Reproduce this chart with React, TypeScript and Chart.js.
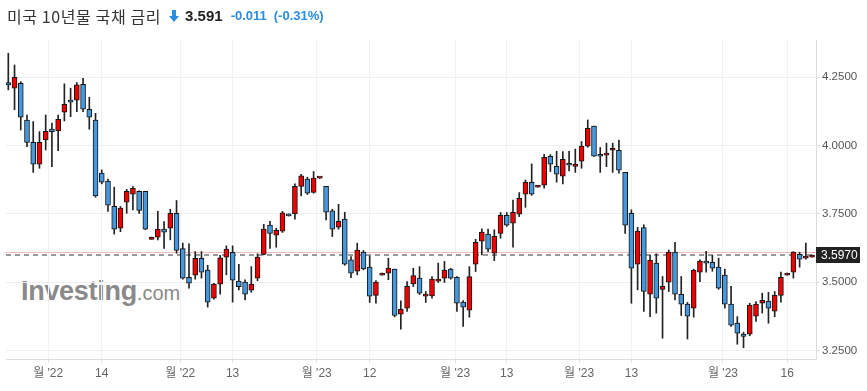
import React, { useEffect, useRef } from "react";
import { Chart, registerables } from "chart.js";

Chart.register(...registerables);

// ---- Data (daily candles, US 10Y yield) ----
const opens = [
  4.231, 4.210, 4.228, 4.093, 4.012, 3.932, 4.021, 4.060, 4.054, 4.122,
  4.166, 4.166, 4.224, 4.133, 4.093, 3.899, 3.870, 3.778, 3.698, 3.793,
  3.822, 3.833, 3.833, 3.657, 3.665, 3.694, 3.698, 3.752, 3.623, 3.518,
  3.526, 3.587, 3.544, 3.442, 3.493, 3.592, 3.609, 3.504, 3.500, 3.471,
  3.515, 3.602, 3.709, 3.672, 3.687, 3.749, 3.750, 3.851, 3.877, 3.829,
  3.881, 3.851, 3.761, 3.701, 3.731, 3.582, 3.540, 3.610, 3.555, 3.452,
  3.526, 3.533, 3.548, 3.383, 3.405, 3.494, 3.515, 3.449, 3.450, 3.504,
  3.515, 3.548, 3.518, 3.427, 3.398, 3.566, 3.650, 3.676, 3.606, 3.679,
  3.745, 3.716, 3.749, 3.822, 3.866, 3.848, 3.855, 3.961, 3.924, 3.888,
  3.935, 3.924, 3.943, 3.998, 4.071, 3.968, 3.965, 3.983, 3.983, 3.902,
  3.752, 3.566, 3.700, 3.456, 3.570, 3.474, 3.500, 3.610, 3.456, 3.420,
  3.405, 3.537, 3.577, 3.573, 3.555, 3.526, 3.420, 3.350, 3.310, 3.310,
  3.376, 3.423, 3.431, 3.394, 3.452, 3.526, 3.537, 3.602, 3.588, 3.592,
];
const highs = [
  4.338, 4.295, 4.234, 4.112, 4.088, 4.051, 4.112, 4.082, 4.112, 4.226,
  4.210, 4.231, 4.246, 4.177, 4.118, 3.911, 3.877, 3.848, 3.777, 3.840,
  3.850, 3.834, 3.833, 3.665, 3.759, 3.722, 3.767, 3.799, 3.643, 3.640,
  3.612, 3.612, 3.562, 3.496, 3.598, 3.633, 3.633, 3.565, 3.509, 3.557,
  3.604, 3.712, 3.723, 3.698, 3.759, 3.750, 3.860, 3.895, 3.884, 3.905,
  3.883, 3.851, 3.767, 3.785, 3.756, 3.594, 3.643, 3.616, 3.596, 3.506,
  3.533, 3.588, 3.548, 3.432, 3.502, 3.551, 3.557, 3.466, 3.521, 3.570,
  3.576, 3.551, 3.521, 3.433, 3.557, 3.657, 3.695, 3.694, 3.692, 3.755,
  3.755, 3.801, 3.828, 3.874, 3.933, 3.855, 3.968, 3.967, 3.979, 3.978,
  3.979, 3.987, 4.015, 4.094, 4.071, 3.993, 4.009, 4.009, 4.020, 3.902,
  3.765, 3.701, 3.710, 3.599, 3.604, 3.521, 3.618, 3.646, 3.521, 3.426,
  3.548, 3.582, 3.613, 3.598, 3.588, 3.548, 3.485, 3.374, 3.317, 3.423,
  3.429, 3.460, 3.463, 3.466, 3.537, 3.533, 3.612, 3.610, 3.643, 3.599,
];
const lows = [
  4.204, 4.131, 4.057, 3.996, 3.902, 3.917, 3.984, 3.923, 3.981, 4.090,
  4.106, 4.124, 4.124, 4.060, 3.811, 3.860, 3.759, 3.676, 3.685, 3.752,
  3.765, 3.752, 3.692, 3.657, 3.655, 3.624, 3.655, 3.606, 3.511, 3.478,
  3.511, 3.515, 3.409, 3.438, 3.456, 3.527, 3.427, 3.472, 3.435, 3.463,
  3.505, 3.600, 3.624, 3.628, 3.682, 3.742, 3.731, 3.816, 3.821, 3.826,
  3.880, 3.728, 3.667, 3.694, 3.562, 3.517, 3.527, 3.545, 3.426, 3.423,
  3.526, 3.509, 3.373, 3.328, 3.393, 3.484, 3.455, 3.426, 3.442, 3.499,
  3.499, 3.511, 3.393, 3.338, 3.372, 3.539, 3.600, 3.612, 3.579, 3.661,
  3.704, 3.628, 3.740, 3.774, 3.818, 3.848, 3.844, 3.905, 3.866, 3.860,
  3.907, 3.902, 3.917, 3.994, 3.960, 3.902, 3.923, 3.902, 3.899, 3.679,
  3.423, 3.472, 3.393, 3.374, 3.387, 3.295, 3.466, 3.435, 3.378, 3.292,
  3.372, 3.502, 3.537, 3.540, 3.474, 3.405, 3.338, 3.273, 3.260, 3.304,
  3.356, 3.387, 3.350, 3.374, 3.427, 3.526, 3.515, 3.555, 3.584, 3.592,
];
const closes = [
  4.222, 4.250, 4.104, 4.012, 3.932, 4.012, 4.052, 4.051, 4.096, 4.151,
  4.159, 4.222, 4.133, 4.104, 3.816, 3.866, 3.782, 3.694, 3.771, 3.833,
  3.844, 3.763, 3.694, 3.665, 3.694, 3.683, 3.752, 3.616, 3.515, 3.496,
  3.587, 3.537, 3.427, 3.493, 3.589, 3.621, 3.507, 3.484, 3.456, 3.493,
  3.592, 3.694, 3.679, 3.690, 3.754, 3.743, 3.851, 3.889, 3.826, 3.881,
  3.882, 3.756, 3.694, 3.723, 3.566, 3.533, 3.618, 3.549, 3.449, 3.500,
  3.533, 3.552, 3.378, 3.402, 3.485, 3.524, 3.460, 3.456, 3.511, 3.511,
  3.544, 3.515, 3.423, 3.409, 3.521, 3.646, 3.683, 3.621, 3.668, 3.745,
  3.709, 3.756, 3.807, 3.866, 3.822, 3.855, 3.957, 3.932, 3.895, 3.950,
  3.928, 3.932, 3.998, 4.063, 3.961, 3.961, 3.972, 3.990, 3.910, 3.709,
  3.551, 3.687, 3.466, 3.581, 3.442, 3.485, 3.610, 3.456, 3.420, 3.376,
  3.544, 3.577, 3.570, 3.551, 3.478, 3.420, 3.343, 3.313, 3.302, 3.416,
  3.420, 3.434, 3.405, 3.452, 3.518, 3.533, 3.610, 3.584, 3.595, 3.599,
];

// x-axis tick positions (in candle index units) and labels
const xTickPositions = [6.4, 15, 27.6, 36, 49.5, 58, 71.7, 80, 91.6, 100, 114.7, 125];
const xTickLabels = ["월 '22", "14", "월 '22", "13", "월 '23", "12", "월 '23", "13", "월 '23", "13", "월 '23", "16"];
const yTicks = [3.25, 3.5, 3.75, 4.0, 4.25];

const currentPrice = 3.5985;
const currentLabel = "3.5970";
const prevCloseLine = 3.6095;

const UP = "#ee0000";
const DOWN = "#4598dc";

export default function App() {
  const ref = useRef<HTMLCanvasElement | null>(null);

  useEffect(() => {
    const canvas = ref.current;
    if (!canvas) return;

    const bodies = opens.map((o, i) => ({ x: i, y: [Math.min(o, closes[i]), Math.max(o, closes[i])] }));
    const wicks = lows.map((l, i) => ({ x: i, y: [l, highs[i]] }));
    const bodyColors = opens.map((o, i) => (closes[i] >= o ? UP : DOWN));

    const linesPlugin = {
      id: "priceLines",
      beforeDatasetsDraw(chart: any) {
        const { ctx, chartArea, scales } = chart;
        const y1 = Math.round(scales.y.getPixelForValue(prevCloseLine)) + 0.5;
        const y2 = Math.round(scales.y.getPixelForValue(currentPrice));
        ctx.save();
        ctx.strokeStyle = "#f3b9b9";
        ctx.lineWidth = 1;
        ctx.beginPath();
        ctx.moveTo(chartArea.left, y1);
        ctx.lineTo(chartArea.right, y1);
        ctx.stroke();
        ctx.strokeStyle = "#999999";
        ctx.lineWidth = 2;
        ctx.setLineDash([5, 4]);
        ctx.beginPath();
        ctx.moveTo(chartArea.left, y2);
        ctx.lineTo(chartArea.right, y2);
        ctx.stroke();
        ctx.restore();
      },
      afterDraw(chart: any) {
        const { ctx, chartArea, scales } = chart;
        const y = scales.y.getPixelForValue(currentPrice);
        ctx.save();
        ctx.fillStyle = "#222222";
        ctx.fillRect(chartArea.right, Math.round(y) - 8, 44, 16);
        ctx.fillStyle = "#ffffff";
        ctx.font = "12px 'Liberation Sans', Arial, sans-serif";
        ctx.textAlign = "left";
        ctx.textBaseline = "middle";
        ctx.fillText(currentLabel, chartArea.right + 5, Math.round(y) + 0.5);
        ctx.restore();
      },
    };

    const chart = new Chart(canvas, {
      type: "bar",
      data: {
        datasets: [
          {
            data: bodies as any,
            backgroundColor: bodyColors,
            borderColor: "#151515",
            borderWidth: 1,
            borderSkipped: false,
            barThickness: 5,
            minBarLength: 2,
            grouped: false,
          } as any,
          {
            data: wicks as any,
            backgroundColor: "#222222",
            borderWidth: 0,
            barThickness: 1,
            grouped: false,
          } as any,
        ],
      },
      options: {
        responsive: false,
        animation: false,
        layout: { padding: { top: 40, left: 6, right: 0, bottom: 0 } },
        plugins: { legend: { display: false }, tooltip: { enabled: false } },
        scales: {
          x: {
            type: "linear",
            offset: false,
            min: -0.37,
            max: 129.63,
            afterFit: (s: any) => { s.height = 32; },
            afterBuildTicks: (s: any) => { s.ticks = xTickPositions.map((v) => ({ value: v })); },
            grid: { color: "#f1f1f1", tickLength: 4, tickColor: "#e4e4e4", offset: false },
            border: { color: "#dddddd" },
            ticks: {
              autoSkip: false,
              maxRotation: 0,
              padding: 3,
              color: "#666666",
              font: { size: 12, family: "'Liberation Sans', 'Noto Sans CJK KR', sans-serif" },
              callback: (_v: any, i: number) => xTickLabels[i],
            },
          },
          y: {
            position: "right",
            min: 3.2189,
            max: 4.3865,
            afterFit: (s: any) => { s.width = 51; },
            afterBuildTicks: (s: any) => { s.ticks = yTicks.map((v) => ({ value: v })); },
            grid: { color: "#efefef", tickLength: 4, tickColor: "#dddddd" },
            border: { color: "#dddddd" },
            ticks: {
              padding: 2,
              color: "#555555",
              font: { size: 11.5, family: "'Liberation Sans', Arial, sans-serif" },
              callback: (v: any) => Number(v).toFixed(4),
            },
          },
        },
      },
      plugins: [linesPlugin],
    } as any);

    return () => chart.destroy();
  }, []);

  return (
    <div style={{ position: "fixed", left: 0, top: 0, width: 867, height: 391, background: "#fff", overflow: "hidden" }}>
      <div
        style={{
          position: "absolute",
          left: 21,
          top: 276,
          color: "#8a8a8a",
          fontFamily: "'Liberation Sans', Arial, sans-serif",
          whiteSpace: "nowrap",
          lineHeight: "30px",
        }}
      >
        <span style={{ fontSize: 27, fontWeight: "bold", letterSpacing: -0.3 }}>Investing</span>
        <span style={{ fontSize: 20 }}>.com</span>
      </div>
      <canvas ref={ref} width={867} height={391} style={{ position: "absolute", left: 0, top: 0, width: 867, height: 391 }} />
      <div
        style={{
          position: "absolute",
          left: 7,
          top: 5,
          display: "flex",
          alignItems: "center",
          whiteSpace: "nowrap",
          lineHeight: "22px",
          height: 22,
        }}
      >
        <span style={{ fontFamily: "'Noto Sans CJK KR', sans-serif", fontSize: 16, letterSpacing: 0.6, color: "#333" }}>미국 10년물 국채 금리</span>
        <svg width="10" height="12" viewBox="0 0 10 12" style={{ marginLeft: 8 }}>
          <polygon points="3,0 7,0 7,6 10,6 5,12 0,6 3,6" fill="#2a8de0" />
        </svg>
        <span style={{ fontFamily: "'Liberation Sans', Arial, sans-serif", fontSize: 15, fontWeight: "bold", color: "#222", marginLeft: 6 }}>3.591</span>
        <span style={{ fontFamily: "'Liberation Sans', Arial, sans-serif", fontSize: 13, fontWeight: "bold", color: "#2a8de0", marginLeft: 8 }}>-0.011</span>
        <span style={{ fontFamily: "'Liberation Sans', Arial, sans-serif", fontSize: 13, fontWeight: "bold", color: "#2a8de0", marginLeft: 7 }}>(-0.31%)</span>
      </div>
    </div>
  );
}
